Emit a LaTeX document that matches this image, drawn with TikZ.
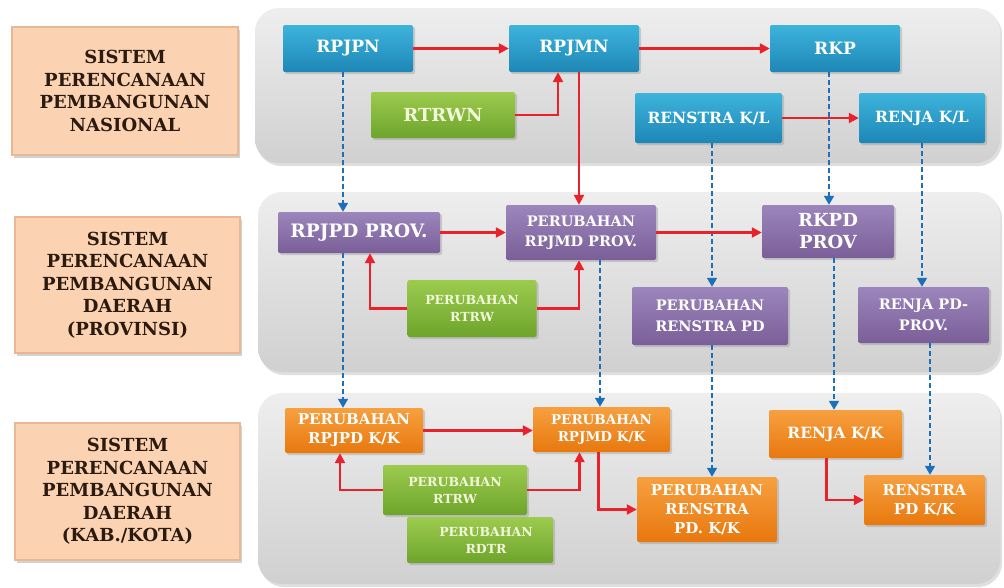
\documentclass[tikz,border=0pt]{standalone}
\usepackage{fontspec}
\setmainfont{DejaVu Serif}
\usetikzlibrary{arrows.meta,shadows,calc}
\definecolor{panelA}{HTML}{EEEEEE}
\definecolor{panelB}{HTML}{D0D0D0}
\definecolor{blueA}{HTML}{3DB4DC}
\definecolor{blueB}{HTML}{1E86B6}
\definecolor{purA}{HTML}{9C86BC}
\definecolor{purB}{HTML}{7A5E98}
\definecolor{oraA}{HTML}{F7A040}
\definecolor{oraB}{HTML}{E8780E}
\definecolor{greA}{HTML}{9CCB4E}
\definecolor{greB}{HTML}{6EA42C}
\definecolor{greT}{HTML}{F2F8DA}
\definecolor{peach}{HTML}{FBD3B2}
\definecolor{peachedge}{HTML}{E8B894}
\definecolor{redline}{HTML}{E8212B}
\definecolor{bluedashc}{HTML}{1F6FB8}
\definecolor{labtext}{HTML}{2B1A10}
\tikzset{
  panel/.style={rounded corners=24pt, top color=panelA, bottom color=panelB, draw=none,
    drop shadow={shadow xshift=2pt,shadow yshift=-3pt,opacity=0.25}},
  labelbox/.style={fill=peach, draw=peachedge, line width=1.2pt, text=labtext, align=center,
    font=\bfseries\fontsize{18}{22.5}\selectfont,
    drop shadow={shadow xshift=2pt,shadow yshift=-3pt,opacity=0.35}},
  basebox/.style={draw=none, rounded corners=2pt, text=white, align=center, inner sep=1pt,
    drop shadow={shadow xshift=2pt,shadow yshift=-2pt,opacity=0.3}},
  bluebox/.style={basebox, top color=blueA, bottom color=blueB, font=\bfseries\fontsize{17}{20}\selectfont},
  purbox/.style={basebox, top color=purA, bottom color=purB, font=\bfseries\fontsize{14.5}{20.5}\selectfont},
  orabox/.style={basebox, top color=oraA, bottom color=oraB, font=\bfseries\fontsize{15}{19}\selectfont},
  grebox/.style={basebox, top color=greA, bottom color=greB, text=greT, font=\bfseries\fontsize{12.5}{17}\selectfont},
  redarrow/.style={draw=redline, line width=2.2pt, -{Triangle[length=10pt,width=10pt]}},
  bluedash/.style={draw=bluedashc, line width=1.6pt, dash pattern=on 5pt off 3pt,
    -{Triangle[length=9pt,width=10pt]}},
}
\begin{document}
\begin{tikzpicture}[x=1pt,y=-1pt]
\useasboundingbox (0,0) rectangle (1004,587);
\fill[white] (0,0) rectangle (1004,587);
% panels
\path[panel] (255,8) rectangle (1000,163);
\path[panel] (258,192) rectangle (1000,372);
\path[panel] (258,393) rectangle (1000,584);
% label boxes
\node[labelbox, minimum width=226, minimum height=128] (labA) at (125,91) {SISTEM\\PERENCANAAN\\PEMBANGUNAN\\NASIONAL};
\node[labelbox, minimum width=225, minimum height=136] (labB) at (127.5,285) {SISTEM\\PERENCANAAN\\PEMBANGUNAN\\DAERAH\\(PROVINSI)};
\node[labelbox, minimum width=225, minimum height=137] (labC) at (127.5,491.5) {SISTEM\\PERENCANAAN\\PEMBANGUNAN\\DAERAH\\(KAB./KOTA)};
% row 1
\node[bluebox, minimum width=130, minimum height=47] (rpjpn) at (348,48.5) {RPJPN};
\node[bluebox, minimum width=130, minimum height=47] (rpjmn) at (574,48.5) {RPJMN};
\node[bluebox, minimum width=130, minimum height=47] (rkp) at (835,48.5) {RKP};
\node[grebox, font=\bfseries\fontsize{18}{20}\selectfont, minimum width=144, minimum height=46] (rtrwn) at (443,115) {RTRWN};
\node[bluebox, font=\bfseries\fontsize{15.5}{18}\selectfont, minimum width=147, minimum height=50] (renstrakl) at (708.5,118) {RENSTRA K/L};
\node[bluebox, font=\bfseries\fontsize{15.5}{18}\selectfont, minimum width=126, minimum height=50] (renjakl) at (922,118) {RENJA K/L};
% row 2
\node[purbox, font=\bfseries\fontsize{18.5}{20}\selectfont, minimum width=162, minimum height=41] (rpjpdprov) at (359,232.5) {RPJPD PROV.};
\node[grebox, minimum width=129, minimum height=57] (rtrwprov) at (472,308.5) {PERUBAHAN\\RTRW};
\node[purbox, minimum width=150, minimum height=55] (rpjmdprov) at (581,232.5) {PERUBAHAN\\RPJMD PROV.};
\node[purbox, font=\bfseries\fontsize{18}{22}\selectfont, minimum width=132, minimum height=53] (rkpdprov) at (828,231.5) {RKPD\\PROV};
\node[purbox, minimum width=156, minimum height=58] (renstrapd) at (710,316) {PERUBAHAN\\RENSTRA PD};
\node[purbox, minimum width=131, minimum height=56] (renjapdprov) at (923.5,315) {RENJA PD-\\PROV.};
% row 3
\node[orabox, minimum width=138, minimum height=45] (rpjpdkk) at (354,430.5) {PERUBAHAN\\RPJPD K/K};
\node[grebox, minimum width=144, minimum height=50] (rtrwkab) at (455,490) {PERUBAHAN\\RTRW};
\node[grebox, minimum width=146, minimum height=46] (rdtr) at (480,540) {\hspace{12pt}PERUBAHAN\\\hspace{12pt}RDTR};
\node[orabox, font=\bfseries\fontsize{13.5}{17}\selectfont, minimum width=137, minimum height=45] (rpjmdkk) at (601.5,429.5) {PERUBAHAN\\RPJMD K/K};
\node[orabox, minimum width=140, minimum height=65] (renstrapdkkA) at (707,509.5) {PERUBAHAN\\RENSTRA\\PD. K/K};
\node[orabox, font=\bfseries\fontsize{15.5}{19}\selectfont, minimum width=133, minimum height=48] (renjakk) at (835.5,434) {RENJA K/K};
\node[orabox, minimum width=121, minimum height=50] (renstrapdkkB) at (924.5,500) {RENSTRA\\PD K/K};
% blue dashed connectors
\draw[bluedash] ([xshift=-5]rpjpn.south) -- ([xshift=-5]rpjpn.south |- rpjpdprov.north);
\draw[bluedash] ([xshift=-6]rkp.south) -- ([xshift=-6]rkp.south |- rkpdprov.north);
\draw[bluedash] ([xshift=3.5]renstrakl.south) -- ([xshift=3.5]renstrakl.south |- renstrapd.north);
\draw[bluedash] (renjakl.south) -- (renjakl.south |- renjapdprov.north);
\draw[bluedash] ([xshift=-16]rpjpdprov.south) -- ([xshift=-16]rpjpdprov.south |- rpjpdkk.north);
\draw[bluedash] ([xshift=19]rpjmdprov.south) -- ([xshift=19]rpjmdprov.south |- rpjmdkk.north);
\draw[bluedash] ([xshift=2]renstrapd.south) -- ([xshift=2]renstrapd.south |- renstrapdkkA.north);
\draw[bluedash] ([xshift=6]rkpdprov.south) -- ([xshift=6]rkpdprov.south |- renjakk.north);
\draw[bluedash] ([xshift=6.5]renjapdprov.south) -- ([xshift=6.5]renjapdprov.south |- renstrapdkkB.north);
% red connectors
\draw[redarrow] (rpjpn.east) -- (rpjmn.west);
\draw[redarrow] (rpjmn.east) -- (rkp.west);
\draw[redarrow] (rtrwn.east) -| ([xshift=-16]rpjmn.south);
\draw[redarrow] ([xshift=5]rpjmn.south) -- ([xshift=5]rpjmn.south |- rpjmdprov.north);
\draw[redarrow] (renstrakl.east) -- (renjakl.west);
\draw[redarrow] (rpjpdprov.east) -- (rpjpdprov.east -| rpjmdprov.west);
\draw[redarrow] (rpjmdprov.east) -- (rpjmdprov.east -| rkpdprov.west);
\draw[redarrow] (rtrwprov.west) -| ([xshift=11]rpjpdprov.south);
\draw[redarrow] (rtrwprov.east) -| ([xshift=-2]rpjmdprov.south);
\draw[redarrow] (rpjpdkk.east) -- (rpjpdkk.east -| rpjmdkk.west);
\draw[redarrow] (rtrwkab.west) -| ([xshift=-14]rpjpdkk.south);
\draw[redarrow] (rtrwkab.east) -| ([xshift=-22]rpjmdkk.south);
\draw[redarrow] ([xshift=-3]rpjmdkk.south) |- (renstrapdkkA.west);
\draw[redarrow] ([xshift=-9]renjakk.south) |- (renstrapdkkB.west);
\end{tikzpicture}
\end{document}
